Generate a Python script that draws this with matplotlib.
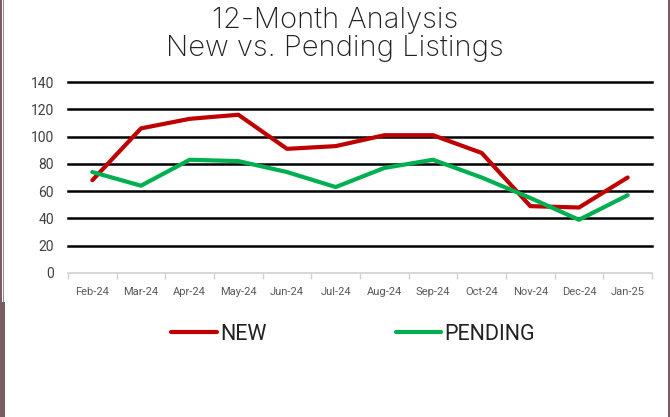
import matplotlib
matplotlib.use("Agg")
import matplotlib.pyplot as plt
from matplotlib.patches import Rectangle
import numpy as np

months = ["Feb-24", "Mar-24", "Apr-24", "May-24", "Jun-24", "Jul-24",
          "Aug-24", "Sep-24", "Oct-24", "Nov-24", "Dec-24", "Jan-25"]
new_listings = [68, 106, 113, 116, 91, 93, 101, 101, 88, 49, 48, 70]
pending_listings = [74, 64, 83, 82, 74, 63, 77, 83, 70, 55, 39, 57]
y_ticks = [0, 20, 40, 60, 80, 100, 120, 140]

W, H = 670, 417
fig = plt.figure(figsize=(W / 100, H / 100), dpi=100)
fig.patch.set_facecolor("white")

ax = fig.add_axes([68 / W, 1 - 273 / H, (652 - 68) / W, (273 - 82) / H])
x = np.arange(len(months))
ln_new, = ax.plot(x, new_listings, color="#C00000", lw=3.0, solid_capstyle="round",
                  solid_joinstyle="round", label="NEW", zorder=4)
ln_pend, = ax.plot(x, pending_listings, color="#00B050", lw=3.0, solid_capstyle="round",
                   solid_joinstyle="round", label="PENDING", zorder=5)

ax.set_xlim(-0.5, len(months) - 0.5)
ax.set_ylim(0, 140)
ax.set_yticks(y_ticks)
ax.set_xticks(x)
ax.set_xticklabels(months, fontsize=8, color="#595959", family="Roboto")
ax.set_xticks(np.arange(-0.5, len(months), 1), minor=True)
ax.tick_params(axis="x", which="major", length=0, pad=10)
ax.tick_params(axis="x", which="minor", length=4, color="#D0D0D0", width=1)
ax.tick_params(axis="y", length=0, pad=10, labelsize=10, labelcolor="#404040")
for t in ax.get_yticklabels():
    t.set_family("Roboto")

for v in y_ticks[1:]:
    ax.axhline(v, color="black", lw=1.8, zorder=2, clip_on=False)
for s in ["top", "right", "left"]:
    ax.spines[s].set_visible(False)
ax.spines["bottom"].set_color("#D0D0D0")
ax.spines["bottom"].set_linewidth(1.2)

fig.text(0.5, 1 - 20 / H, "12-Month Analysis", ha="center", va="center",
         fontsize=21, family="Inter", weight="light", color="#222222")
fig.text(0.5, 1 - 49 / H, "New vs. Pending Listings", ha="center", va="center",
         fontsize=21, family="Inter", weight="light", color="#222222")

leg = ax.legend(handles=[ln_new, ln_pend], loc="center", ncol=2,
                bbox_to_anchor=(353 / W, 1 - 334 / H), bbox_transform=fig.transFigure,
                frameon=False, handlelength=2.1, handletextpad=0.15, columnspacing=6.0,
                prop={"family": "Roboto", "size": 15.5})
for t in leg.get_texts():
    t.set_color("#222222")

mauve = "#7A5C62"
fig.patches.append(Rectangle((0, 0), 2 / W, 1, transform=fig.transFigure,
                             facecolor=mauve, edgecolor="none"))
fig.patches.append(Rectangle((3 / W, 1 - 302 / H), 1 / W, 302 / H, transform=fig.transFigure,
                             facecolor="#9A8A8D", edgecolor="none"))
fig.patches.append(Rectangle((0, 0), 5 / W, 1 - 302 / H, transform=fig.transFigure,
                             facecolor=mauve, edgecolor="none"))
fig.patches.append(Rectangle((668 / W, 0), 2 / W, 1, transform=fig.transFigure,
                             facecolor=mauve, edgecolor="none"))

fig.savefig("out.png", dpi=100, facecolor="white")
